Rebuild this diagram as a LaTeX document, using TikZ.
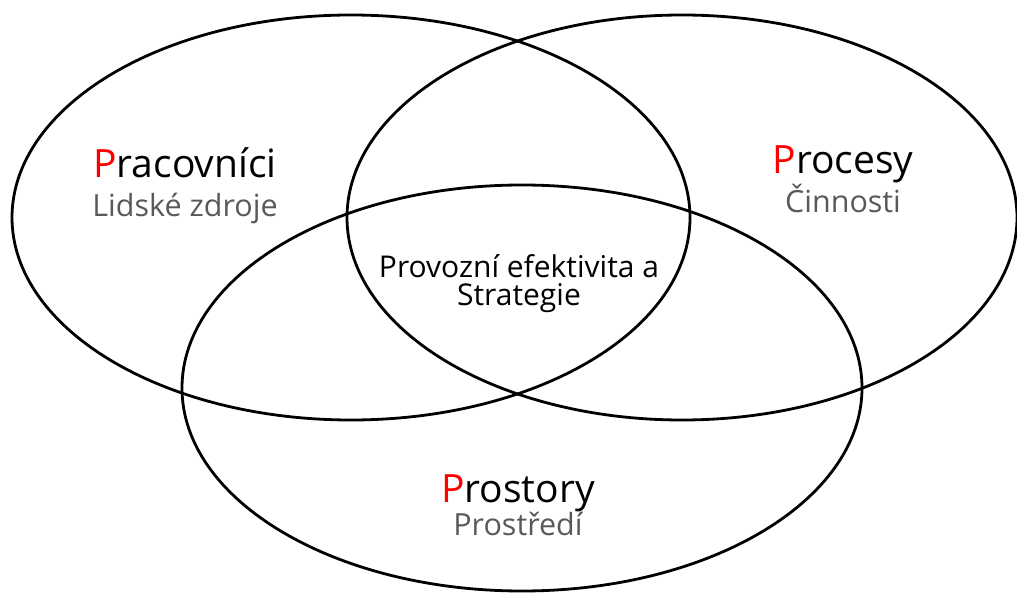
\documentclass[tikz,border=0pt]{standalone}
\usepackage{fontspec}
\setmainfont{Open Sans}
\definecolor{pred}{RGB}{255,0,0}
\definecolor{subgray}{RGB}{89,89,89}
\begin{document}
\begin{tikzpicture}[x=1pt,y=-1pt,
  ring/.style={draw=black,line width=2.8pt},
  title/.style={anchor=base,inner sep=0pt,font=\fontsize{39}{39}\selectfont,text=black},
  sub/.style={anchor=base,inner sep=0pt,font=\fontsize{30.5}{30.5}\selectfont,text=subgray},
  core/.style={anchor=base,inner sep=0pt,font=\fontsize{30}{30}\selectfont,text=black}]
\useasboundingbox (0,0) rectangle (1017,593);
\draw[ring] (351,217.5) ellipse [x radius=339,y radius=202.5];
\draw[ring] (682,217.5) ellipse [x radius=335,y radius=202.5];
\draw[ring] (522,388) ellipse [x radius=340,y radius=203];
\node[title] (t1) at (185,178) {\textcolor{pred}{P}racovníci};
\node[sub]   (s1) at (185,217) {Lidské zdroje};
\node[title] (t2) at (843,174) {\textcolor{pred}{P}rocesy};
\node[sub]   (s2) at (843,213) {Činnosti};
\node[core]  (c1) at (519,278) {Provozní efektivita a};
\node[core]  (c2) at (519,306) {Strategie};
\node[title] (t3) at (518,502) {\textcolor{pred}{P}rostory};
\node[sub]   (s3) at (518,535) {Prostředí};
\end{tikzpicture}
\end{document}
